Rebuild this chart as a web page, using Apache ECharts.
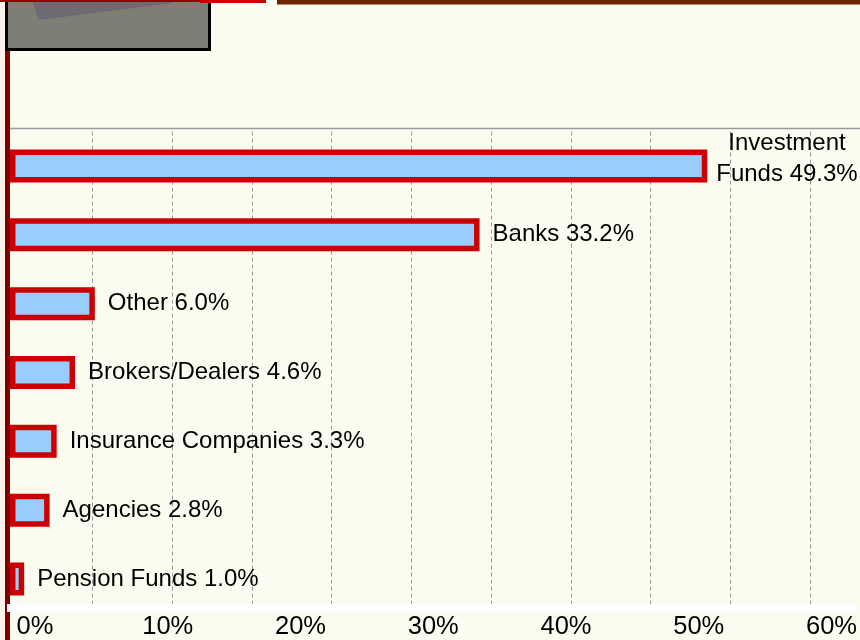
<!DOCTYPE html>
<html>
<head>
<meta charset="utf-8">
<script src="https://cdn.jsdelivr.net/npm/echarts@6/dist/echarts.min.js"></script>
<style>
html, body { margin: 0; padding: 0; background: #fbfbef; }
#main { width: 860px; height: 640px; }
</style>
</head>
<body>
<div id="main"></div>
<script>
// holders, top to bottom
var categories = ['Investment\nFunds', 'Banks', 'Other', 'Brokers/Dealers', 'Insurance Companies', 'Agencies', 'Pension Funds'];
var shares = [49.3, 33.2, 6.0, 4.6, 3.3, 2.8, 1.0];
var tickValues = [0, 10, 20, 30, 40, 50, 60];

var font = "'Liberation Sans', Arial, sans-serif";
var myChart = echarts.init(document.getElementById('main'));

myChart.setOption({
  backgroundColor: '#fbfbef',
  animation: false,
  textStyle: { fontFamily: font },
  grid: [
    { left: 10, right: 0, top: 131.6, bottom: 26.6 },
    // grid only used for the percent labels at the bottom
    { left: 35, right: 11.5, top: 131.6, bottom: 26.6 },
    // grid for the dashed guides
    { left: 13, right: 0, top: 131.6, bottom: 26.6 }
  ],
  xAxis: [
    {
      gridIndex: 0,
      type: 'value',
      min: 0,
      max: 60.1,
      show: false
    },
    {
      gridIndex: 2,
      type: 'value',
      min: 0,
      max: 10.63,
      interval: 1,
      axisLine: { show: false },
      axisTick: { show: false },
      axisLabel: { show: false },
      splitLine: {
        show: true,
        showMinLine: false,
        lineStyle: { color: '#9a9a9a', width: 1, type: [4, 3] }
      }
    },
    {
      gridIndex: 1,
      type: 'value',
      min: tickValues[0],
      max: tickValues[tickValues.length - 1],
      interval: tickValues[1] - tickValues[0],
      axisLine: { show: false },
      axisTick: { show: false },
      splitLine: { show: false },
      axisLabel: {
        show: true,
        showMinLabel: true,
        showMaxLabel: true,
        margin: 1,
        color: '#000',
        fontSize: 25.5,
        fontFamily: font,
        formatter: '{value}%'
      }
    }
  ],
  yAxis: [
    {
      gridIndex: 0,
      type: 'category',
      inverse: true,
      data: categories,
      show: false
    },
    { gridIndex: 1, type: 'value', show: false },
    { gridIndex: 2, type: 'value', show: false }
  ],
  series: [
    {
      type: 'bar',
      xAxisIndex: 0,
      yAxisIndex: 0,
      barWidth: 33,
      z: 3,
      data: shares.map(function (v, i) {
        if (categories[i].indexOf('\n') >= 0) {
          return { value: v, label: { offset: [0, -7], distance: 9 } };
        }
        return v;
      }),
      itemStyle: {
        color: '#99ccff',
        borderColor: '#cc0000',
        borderWidth: 5.5
      },
      label: {
        show: true,
        position: 'right',
        distance: 13,
        formatter: function (p) {
          var txt = p.name + ' ' + p.value.toFixed(1) + '%';
          return txt.split('\n').map(function (s) { return '{c|' + s + '}'; }).join('\n');
        },
        rich: {
          c: {
            align: 'center',
            color: '#000',
            fontSize: 24,
            lineHeight: 31,
            fontFamily: font
          }
        }
      }
    }
  ],
  graphic: [
    { type: 'rect', z: 100, shape: { x: 0, y: 0, width: 5, height: 640 }, style: { fill: '#fbf2ec' } },
    { type: 'rect', z: 100, shape: { x: 5, y: 0, width: 5, height: 640 }, style: { fill: '#800000' } },
    { type: 'line', z: 100, shape: { x1: 10, y1: 128.5, x2: 860, y2: 128.5 }, style: { stroke: '#9a9a9a', lineWidth: 1.5 } },
    { type: 'rect', z: 100, shape: { x: 7, y: 604, width: 850, height: 8 }, style: { fill: '#ffffff' } },
    { type: 'rect', z: 101, shape: { x: 6.5, y: -5, width: 203, height: 54.5 }, style: { fill: '#7e7e74', stroke: '#000', lineWidth: 3 } },
    { type: 'polygon', z: 102, shape: { points: [[32, 0], [39, 20], [173, 3], [173, 0]] }, style: { fill: '#6d6a71' } },
    { type: 'rect', z: 103, shape: { x: 0, y: 0, width: 200, height: 2 }, style: { fill: '#990000' } },
    { type: 'rect', z: 103, shape: { x: 200, y: 0, width: 66, height: 3 }, style: { fill: '#cc0000' } },
    { type: 'rect', z: 103, shape: { x: 277, y: 0, width: 583, height: 4.5 }, style: { fill: '#6b2300' } }
  ]
});
</script>
</body>
</html>
